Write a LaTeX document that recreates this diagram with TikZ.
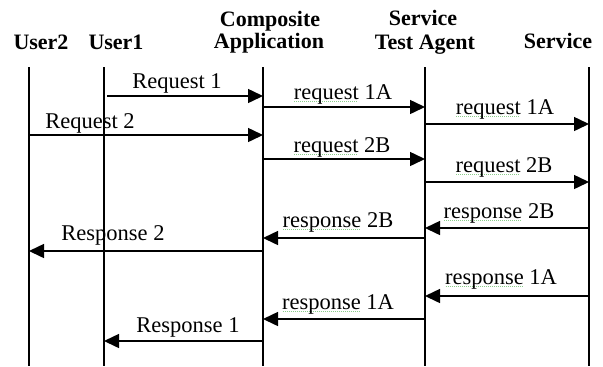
\documentclass[tikz,border=0pt]{standalone}
\usepackage{fontspec}
\setmainfont{Liberation Serif}
\usetikzlibrary{arrows.meta}
\definecolor{spellgreen}{RGB}{140,205,140}
\newsavebox\gsqbox
\newcommand\gsq[1]{\sbox\gsqbox{#1}\leavevmode\rlap{\textcolor{spellgreen}{\raisebox{-3bp}{\hbox to \wd\gsqbox{\leaders\hbox to 2bp{\hss\rule{1bp}{0.7bp}\hss}\hfill}}}}\usebox\gsqbox}
\begin{document}
\begin{tikzpicture}[x=1bp,y=-1bp,
  life/.style={line width=1.8bp},
  msg/.style={line width=1.5bp,-{Triangle[length=15bp,width=14bp]}},
  lbl/.style={anchor=base,inner sep=0pt,font=\fontsize{22.5bp}{27bp}\selectfont},
  hdr/.style={anchor=base,inner sep=0pt,font=\fontsize{22bp}{26bp}\selectfont\bfseries}]
\fill[white] (0,0) rectangle (603,366);
\useasboundingbox (0,0) rectangle (603,366);
% headers
\node[hdr] (hU2) at (41,49) {User2};
\node[hdr] (hU1) at (116,49) {User1};
\node[hdr] (hCA1) at (270,26) {Composite};
\node[hdr] (hCA2) at (269,48) {Application};
\node[hdr] (hST1) at (423,25) {Service};
\node[hdr] (hST2) at (425,49) {Test Agent};
\node[hdr] (hSV) at (558,48) {Service};
% lifelines
\coordinate (U2t) at (29,67);  \coordinate (U2b) at (29,366);
\coordinate (U1t) at (104,67); \coordinate (U1b) at (104,366);
\coordinate (CAt) at (263,67); \coordinate (CAb) at (263,366);
\coordinate (STt) at (425,67); \coordinate (STb) at (425,366);
\coordinate (SVt) at (589,67); \coordinate (SVb) at (589,366);
\draw[life] (U2t) -- (U2b);
\draw[life] (U1t) -- (U1b);
\draw[life] (CAt) -- (CAb);
\draw[life] (STt) -- (STb);
\draw[life] (SVt) -- (SVb);
% message end points
\coordinate (m1a) at (107,96);  \coordinate (m1b) at (263,96);
\coordinate (m2a) at (263,107); \coordinate (m2b) at (425,107);
\coordinate (m3a) at (425,124); \coordinate (m3b) at (589,124);
\coordinate (m4a) at (29,135);  \coordinate (m4b) at (263,135);
\coordinate (m5a) at (263,159); \coordinate (m5b) at (425,159);
\coordinate (m6a) at (425,182); \coordinate (m6b) at (589,182);
\coordinate (m7a) at (589,228); \coordinate (m7b) at (425,228);
\coordinate (m8a) at (425,238); \coordinate (m8b) at (263,238);
\coordinate (m9a) at (263,251); \coordinate (m9b) at (29,251);
\coordinate (m10a) at (589,296); \coordinate (m10b) at (425,296);
\coordinate (m11a) at (425,319); \coordinate (m11b) at (263,319);
\coordinate (m12a) at (263,341); \coordinate (m12b) at (104,341);
\draw[msg] (m1a) -- (m1b);
\draw[msg] (m2a) -- (m2b);
\draw[msg] (m3a) -- (m3b);
\draw[msg] (m4a) -- (m4b);
\draw[msg] (m5a) -- (m5b);
\draw[msg] (m6a) -- (m6b);
\draw[msg] (m7a) -- (m7b);
\draw[msg] (m8a) -- (m8b);
\draw[msg] (m9a) -- (m9b);
\draw[msg] (m10a) -- (m10b);
\draw[msg] (m11a) -- (m11b);
\draw[msg] (m12a) -- (m12b);
% labels
\node[lbl] (l1) at (177,88) {Request 1};
\node[lbl] (l2) at (343,99) {\gsq{request} 1A};
\node[lbl] (l3) at (505,114) {\gsq{request} 1A};
\node[lbl] (l4) at (90,128) {Request 2};
\node[lbl] (l5) at (342,152) {\gsq{request} 2B};
\node[lbl] (l6) at (504,172) {\gsq{request} 2B};
\node[lbl] (l7) at (499,218) {\gsq{response} 2B};
\node[lbl] (l8) at (338,227) {\gsq{response} 2B};
\node[lbl] (l9) at (113,240) {Response 2};
\node[lbl] (l10) at (501,284) {\gsq{response} 1A};
\node[lbl] (l11) at (338,309) {\gsq{response} 1A};
\node[lbl] (l12) at (188,332) {Response 1};
\end{tikzpicture}
\end{document}
